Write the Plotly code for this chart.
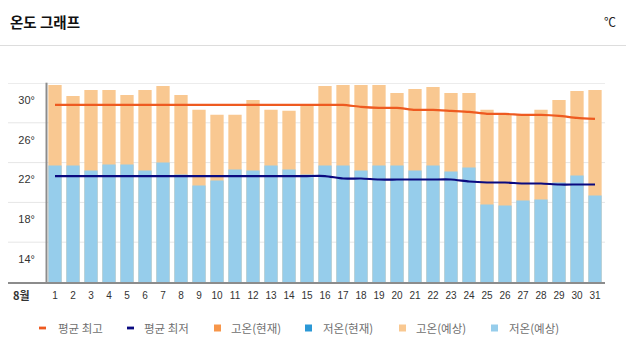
import plotly.graph_objects as go

# ---------------- data ----------------
days = list(range(1, 32))
day_labels = [str(d) for d in days]
high_forecast = [29.8, 28.7, 29.3, 29.3, 28.8, 29.3, 29.7, 28.8, 27.3, 26.8, 26.8, 28.3, 27.3, 27.2, 27.8, 29.7,
                 29.8, 29.8, 29.8, 29.0, 29.4, 29.6, 29.0, 29.0, 27.3, 26.9, 26.8, 27.3, 28.3, 29.2, 29.3]
low_forecast = [21.7, 21.7, 21.2, 21.8, 21.8, 21.2, 22.0, 20.8, 19.7, 20.2, 21.3, 21.2, 21.7, 21.3, 20.8, 21.7,
                21.7, 21.2, 21.7, 21.7, 21.2, 21.7, 21.1, 21.5, 17.8, 17.7, 18.2, 18.3, 20.0, 20.7, 18.7]
avg_high = [27.8] * 17 + [27.6, 27.5, 27.5, 27.3, 27.3, 27.2, 27.1, 26.9, 26.9, 26.8, 26.8, 26.7, 26.5, 26.4]
avg_low = [20.65] * 16 + [20.4, 20.4, 20.3, 20.3, 20.3, 20.3, 20.3, 20.1, 20.0, 20.0, 19.9, 19.9, 19.8, 19.8, 19.8]
y_ticks = [30, 26, 22, 18, 14]
y_tick_labels = ["30°", "26°", "22°", "18°", "14°"]
y_min, y_max = 10, 30
legend_names = ["평균 최고", "평균 최저", "고온(현재)", "저온(현재)", "고온(예상)", "저온(예상)"]

# ---------------- style ----------------
C_HIGH_F = "#F9C891"
C_LOW_F = "#96CDEB"
C_HIGH_C = "#F7964A"
C_LOW_C = "#2B98D6"
C_AVG_H = "#EE5A20"
C_AVG_L = "#0A0A80"
W, H = 626, 354
L, R, T, B = 46, 22, 83, 72
PW, PH = W - L - R, H - T - B


def px(x):
    return (x - L) / PW


def py(y):
    return (H - B - y) / PH


KFONT = "Noto Sans CJK KR, Liberation Sans, sans-serif"
NFONT = "Liberation Sans Narrow, Liberation Sans, Arial, sans-serif"

fig = go.Figure()
fig.add_trace(go.Bar(x=days, y=high_forecast, name=legend_names[4], marker=dict(color=C_HIGH_F, line=dict(width=0)),
                     showlegend=False))
fig.add_trace(go.Bar(x=days, y=low_forecast, name=legend_names[5], marker=dict(color=C_LOW_F, line=dict(width=0)),
                     showlegend=False))
fig.add_trace(go.Scatter(x=days, y=avg_high, name=legend_names[0], mode="lines",
                         line=dict(color=C_AVG_H, width=2.2, shape="spline", smoothing=0.6), showlegend=False))
fig.add_trace(go.Scatter(x=days, y=avg_low, name=legend_names[1], mode="lines",
                         line=dict(color=C_AVG_L, width=2.2, shape="spline", smoothing=0.6), showlegend=False))

shapes = []
# gridlines (extend into label area)
for v in y_ticks:
    shapes.append(dict(type="line", xref="paper", yref="y", x0=px(8), x1=px(605), y0=v, y1=v,
                       line=dict(color="#E6E6E6", width=1), layer="below"))
shapes.append(dict(type="line", xref="paper", yref="y", x0=px(8), x1=px(605), y0=y_max, y1=y_max,
                   line=dict(color="#E6E6E6", width=1), layer="below"))
# bottom axis line
shapes.append(dict(type="line", xref="paper", yref="paper", x0=px(8), x1=px(605), y0=py(283), y1=py(283),
                   line=dict(color="#8C8C8C", width=2), layer="below"))
# left axis line
shapes.append(dict(type="line", xref="paper", yref="paper", x0=px(46.5), x1=px(46.5), y0=py(283), y1=py(82.7),
                   line=dict(color="#8C8C8C", width=2), layer="above"))
# header separator
shapes.append(dict(type="line", xref="paper", yref="paper", x0=px(0), x1=px(626), y0=py(45.5), y1=py(45.5),
                   line=dict(color="#DDDDDD", width=1)))

annotations = [
    dict(text="<b>온도 그래프</b>", xref="paper", yref="paper", x=px(8), y=py(22), xanchor="left", yanchor="middle",
         showarrow=False, font=dict(family=KFONT, size=14.5, color="#111111")),
    dict(text="℃", xref="paper", yref="paper", x=px(610), y=py(22), xanchor="center", yanchor="middle",
         showarrow=False, font=dict(family=KFONT, size=12, color="#222222")),
    dict(text="<b>8월</b>", xref="paper", yref="paper", x=px(21), y=py(295), xanchor="center", yanchor="middle",
         showarrow=False, font=dict(family=KFONT, size=11, color="#333333")),
]

# manual legend
legend_items = [
    ("dash", C_AVG_H, 39, 56),
    ("dash", C_AVG_L, 127, 142),
    ("square", C_HIGH_C, 214, 229),
    ("square", C_LOW_C, 305, 321),
    ("square", C_HIGH_F, 399, 414),
    ("square", C_LOW_F, 491, 507),
]
LY = 328
for name, (kind, col, sx, tx) in zip(legend_names, legend_items):
    if kind == "dash":
        shapes.append(dict(type="rect", xref="paper", yref="paper", x0=px(sx), x1=px(sx + 7),
                           y0=py(LY + 1.4), y1=py(LY - 1.4), fillcolor=col, line=dict(width=0)))
    else:
        shapes.append(dict(type="rect", xref="paper", yref="paper", x0=px(sx), x1=px(sx + 7),
                           y0=py(LY + 3.5), y1=py(LY - 3.5), fillcolor=col, line=dict(width=0)))
    annotations.append(dict(text=name, xref="paper", yref="paper", x=px(tx), y=py(LY), xanchor="left",
                            yanchor="middle", showarrow=False, font=dict(family=KFONT, size=11.5, color="#707070")))

fig.update_layout(
    width=W, height=H, autosize=False,
    margin=dict(l=L, r=R, t=T, b=B, pad=0),
    paper_bgcolor="white", plot_bgcolor="white",
    barmode="overlay", bargap=0.26,
    showlegend=False,
    shapes=shapes, annotations=annotations,
    xaxis=dict(range=[0.5, 31.5], tickmode="array", tickvals=days, ticktext=day_labels,
               showgrid=False, zeroline=False, showline=False, ticks="",
               tickfont=dict(family=NFONT, size=10, color="#333333"), ticklabelstandoff=6, fixedrange=True),
    yaxis=dict(range=[y_min, y_max], tickmode="array", tickvals=y_ticks, ticktext=y_tick_labels,
               showgrid=False, zeroline=False, showline=False, ticks="",
               tickfont=dict(family=NFONT, size=11, color="#333333"), ticklabelshift=17,
               ticklabelstandoff=10, fixedrange=True),
)

fig.write_html("out.html", config={"displayModeBar": False})
